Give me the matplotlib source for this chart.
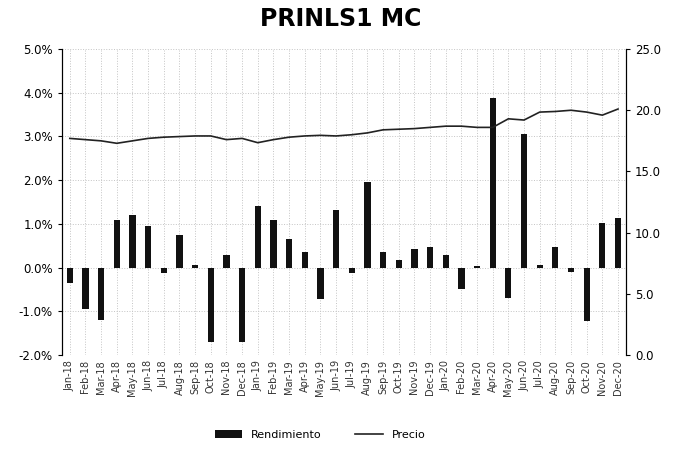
import matplotlib.pyplot as plt
from matplotlib.ticker import FuncFormatter

months = ['Jan-18', 'Feb-18', 'Mar-18', 'Apr-18', 'May-18', 'Jun-18', 'Jul-18', 'Aug-18', 'Sep-18',
          'Oct-18', 'Nov-18', 'Dec-18', 'Jan-19', 'Feb-19', 'Mar-19', 'Apr-19', 'May-19', 'Jun-19',
          'Jul-19', 'Aug-19', 'Sep-19', 'Oct-19', 'Nov-19', 'Dec-19', 'Jan-20', 'Feb-20', 'Mar-20',
          'Apr-20', 'May-20', 'Jun-20', 'Jul-20', 'Aug-20', 'Sep-20', 'Oct-20', 'Nov-20', 'Dec-20']

# rendimiento mensual en %
rendimiento = [-0.35, -0.95, -1.2, 1.1, 1.2, 0.95, -0.12, 0.75, 0.05,
               -1.7, 0.3, -1.7, 1.4, 1.08, 0.65, 0.35, -0.72, 1.32,
               -0.12, 1.95, 0.35, 0.18, 0.42, 0.48, 0.3, -0.5, 0.03,
               3.88, -0.7, 3.05, 0.05, 0.47, -0.1, -1.22, 1.03, 1.14]

precio = [17.7, 17.6, 17.5, 17.3, 17.5, 17.7, 17.8, 17.85, 17.9,
          17.9, 17.6, 17.7, 17.35, 17.6, 17.8, 17.9, 17.95, 17.9,
          18.0, 18.15, 18.4, 18.45, 18.5, 18.6, 18.7, 18.7, 18.6,
          18.6, 19.3, 19.2, 19.85, 19.9, 20.0, 19.85, 19.6, 20.1]

fig = plt.figure(figsize=(6.81, 4.5), dpi=100)
ax = fig.add_axes([0.091, 0.211, 0.828, 0.68])
x = range(len(months))

ax.bar(x, rendimiento, width=0.4, color='#111111', zorder=3, label='Rendimiento')
ax.set_ylim(-2.0, 5.0)
ax.set_yticks([-2, -1, 0, 1, 2, 3, 4, 5])
ax.yaxis.set_major_formatter(FuncFormatter(lambda v, p: '%.1f%%' % v))
ax.set_xlim(-0.5, len(months) - 0.5)
ax.set_xticks(list(x))
ax.set_xticklabels(months, rotation=90, fontsize=7, color='#333333')
ax.tick_params(axis='y', labelsize=8.5, length=3)
ax.tick_params(axis='x', length=0)
ax.grid(True, linestyle=':', color='#c4c4c4', linewidth=0.7, zorder=0)
for s in ['top', 'bottom']:
    ax.spines[s].set_visible(False)

ax2 = ax.twinx()
ax2.plot(x, precio, color='#222222', linewidth=1.2, label='Precio')
ax2.set_ylim(0, 25)
ax2.set_yticks([0, 5, 10, 15, 20, 25])
ax2.yaxis.set_major_formatter(FuncFormatter(lambda v, p: '%.1f' % v))
ax2.tick_params(axis='y', labelsize=8.5, length=3)
for s in ['top', 'bottom']:
    ax2.spines[s].set_visible(False)

fig.suptitle('PRINLS1 MC', fontsize=17, fontweight='bold', y=0.985)

h1, l1 = ax.get_legend_handles_labels()
h2, l2 = ax2.get_legend_handles_labels()
fig.legend(h1 + h2, l1 + l2, loc='lower center', bbox_to_anchor=(0.47, 0.0), ncol=2,
           frameon=False, fontsize=8, handlelength=2.5, columnspacing=3)

plt.savefig('out.png', dpi=100)
